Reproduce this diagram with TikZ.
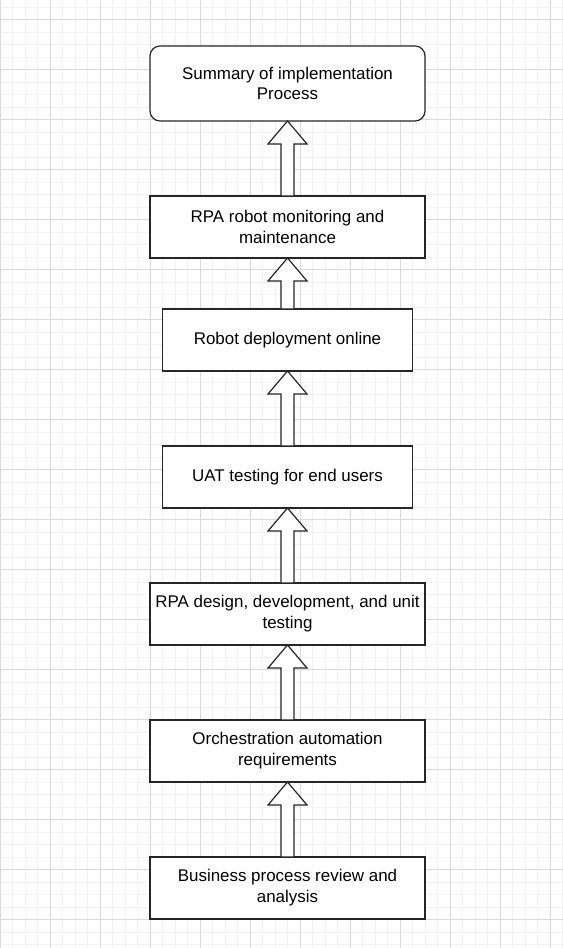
\documentclass[tikz,border=0pt]{standalone}
\usepackage{fontspec}
\setmainfont{Liberation Sans}
\usetikzlibrary{positioning, calc}

\definecolor{minorgrid}{HTML}{F2F2F2}
\definecolor{majorgrid}{HTML}{DADADA}
\definecolor{boxline}{HTML}{262626}

\begin{document}
\begin{tikzpicture}[
x=0.75pt, y=0.75pt,
node distance=56.25pt,
% Define block styles
summary/.style = {rectangle, rounded corners=7.5pt, minimum width=206.25pt, minimum height=56.25pt, inner xsep=1pt, outer sep=0pt, align=center, draw=boxline, line width=0.9pt, fill=white, font=\fontsize{12.7}{15.6}\selectfont},
widebox/.style = {rectangle, minimum width=206.25pt, minimum height=46.5pt, inner xsep=1pt, outer sep=0pt, align=center, draw=boxline, line width=0.9pt, fill=white, font=\fontsize{12.7}{15.6}\selectfont},
narrowbox/.style = {widebox, minimum width=187.5pt},
blockarrow/.style = {draw=boxline, line width=0.9pt, fill=white, line join=miter,
  to path={let \p1=(\tikztostart), \p2=(\tikztotarget) in
    (\x1-4.9pt,\y1) -- (\x1-4.9pt,\y2-17.25pt) -- (\x1-14.6pt,\y2-17.25pt) -- (\x2,\y2)
    -- (\x1+14.6pt,\y2-17.25pt) -- (\x1+4.9pt,\y2-17.25pt) -- (\x1+4.9pt,\y1) -- cycle}}
]

% Background grid
\useasboundingbox (0,0) rectangle (563,948);
\fill[white] (0,0) rectangle (563,948);
\foreach \x in {12.5,25,...,563} \draw[minorgrid, line width=0.75pt] (\x,0) -- (\x,948);
\foreach \y in {3,15.5,...,948} \draw[minorgrid, line width=0.75pt] (0,\y) -- (563,\y);
\foreach \x in {0,50,...,563} \draw[majorgrid, line width=0.75pt] (\x,0) -- (\x,948);
\foreach \y in {28,78,...,948} \draw[majorgrid, line width=0.75pt] (0,\y) -- (563,\y);

% Nodes
\node (review) [widebox] at (287.5,60) {Business process review and\\analysis};
\node (orchestration) [widebox, above=of review] {Orchestration automation\\requirements};
\node (design) [widebox, above=of orchestration] {RPA design, development, and unit\\testing};
\node (uat) [narrowbox, above=of design] {UAT testing for end users};
\node (deploy) [narrowbox, above=of uat] {Robot deployment online};
\node (monitor) [widebox, above=38.25pt of deploy] {RPA robot monitoring and\\maintenance};
\node (summary) [summary, above=of monitor] {Summary of implementation\\Process};

% Arrows
\draw [blockarrow] (review.north) to (orchestration.south);
\draw [blockarrow] (orchestration.north) to (design.south);
\draw [blockarrow] (design.north) to (uat.south);
\draw [blockarrow] (uat.north) to (deploy.south);
\draw [blockarrow] (deploy.north) to (monitor.south);
\draw [blockarrow] (monitor.north) to (summary.south);
\end{tikzpicture}
\end{document}
